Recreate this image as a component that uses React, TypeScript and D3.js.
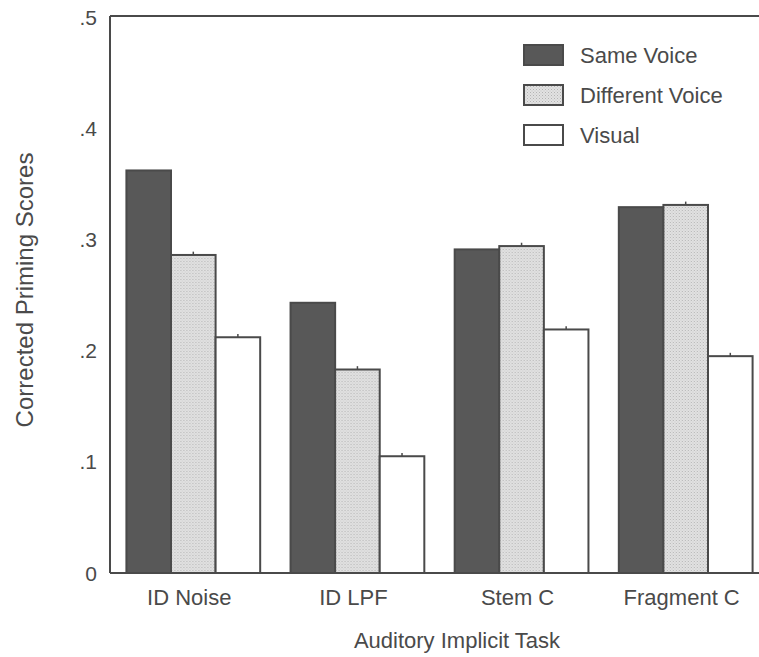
import React from "react";
import { scaleBand, scaleLinear } from "d3";

const categories = ["ID Noise", "ID LPF", "Stem C", "Fragment C"];
const seriesNames = ["Same Voice", "Different Voice", "Visual"];
const sameVoice = [0.362, 0.243, 0.291, 0.329];
const differentVoice = [0.286, 0.183, 0.294, 0.331];
const visual = [0.212, 0.105, 0.219, 0.195];
const errorMarks = [0.003, 0.003, 0.003];
const yTicks = [0, 0.1, 0.2, 0.3, 0.4, 0.5];
const yTickLabels = ["0", ".1", ".2", ".3", ".4", ".5"];

const seriesValues = [sameVoice, differentVoice, visual];

export default function App() {
    const width = 759;
    const height = 657;
    const left = 110;
    const bottom = 573;
    const top = 17;

    const y = scaleLinear().domain([0, 0.5]).range([bottom, top]);
    const x0 = scaleBand()
        .domain(categories)
        .range([left, 769])
        .paddingInner(0.185)
        .paddingOuter(0.1);
    const x1 = scaleBand()
        .domain(seriesNames)
        .range([0, x0.bandwidth()]);

    const fills = ["#585858", "url(#dots)", "#ffffff"];
    const ink = "#4a4a4a";
    const font = "'Liberation Sans', Arial, sans-serif";

    return (
        <svg
            width={width}
            height={height}
            style={{ position: "absolute", left: 0, top: 0, background: "#fff" }}
            fontFamily={font}
        >
            <defs>
                <pattern id="dots" width="3" height="3" patternUnits="userSpaceOnUse">
                    <rect width="3" height="3" fill="#e2e2e2" />
                    <rect width="1" height="1" fill="#b4b4b4" />
                    <rect x="1.5" y="1.5" width="1" height="1" fill="#c4c4c4" />
                </pattern>
            </defs>

            {/* bars */}
            {categories.map((cat, i) => (
                <g key={cat} transform={`translate(${x0(cat)},0)`}>
                    {seriesNames.map((s, j) => {
                        const v = seriesValues[j][i];
                        const bx = x1(s);
                        const bw = x1.bandwidth();
                        return (
                            <g key={s}>
                                {j > 0 && (
                                    <line
                                        x1={bx + bw / 2}
                                        x2={bx + bw / 2}
                                        y1={y(v)}
                                        y2={y(v + errorMarks[j])}
                                        stroke={ink}
                                        strokeWidth={1.5}
                                    />
                                )}
                                <rect
                                    x={bx}
                                    y={y(v)}
                                    width={bw}
                                    height={bottom - y(v)}
                                    fill={fills[j]}
                                    stroke={ink}
                                    strokeWidth={2}
                                />
                            </g>
                        );
                    })}
                </g>
            ))}

            {/* frame */}
            <line x1={left} x2={left} y1={top - 1} y2={bottom} stroke={ink} strokeWidth={2} />
            <line x1={left} x2={width} y1={top - 1} y2={top - 1} stroke={ink} strokeWidth={2} />
            <line x1={left} x2={width} y1={bottom} y2={bottom} stroke={ink} strokeWidth={2} />

            {/* y ticks */}
            {yTicks.map((t, i) => (
                <text
                    key={t}
                    x={97}
                    y={y(t)}
                    textAnchor="end"
                    dominantBaseline="central"
                    fontSize={21}
                    fill={ink}
                >
                    {yTickLabels[i]}
                </text>
            ))}

            {/* x labels */}
            {categories.map(cat => (
                <text
                    key={cat}
                    x={x0(cat) + x0.bandwidth() / 2 - 4}
                    y={605}
                    textAnchor="middle"
                    fontSize={22}
                    fill={ink}
                >
                    {cat}
                </text>
            ))}

            <text x={457} y={648} textAnchor="middle" fontSize={22} fill={ink}>
                Auditory Implicit Task
            </text>
            <text
                transform="translate(33,290) rotate(-90)"
                textAnchor="middle"
                fontSize={24}
                fill={ink}
            >
                Corrected Priming Scores
            </text>

            {/* legend */}
            {seriesNames.map((s, j) => (
                <g key={s} transform={`translate(524,${55 + j * 40})`}>
                    <rect x={0} y={-10} width={39} height={20} fill={fills[j]} stroke={ink} strokeWidth={2} />
                    <text x={56} y={0} dominantBaseline="central" fontSize={22} fill={ink}>
                        {s}
                    </text>
                </g>
            ))}
        </svg>
    );
}
